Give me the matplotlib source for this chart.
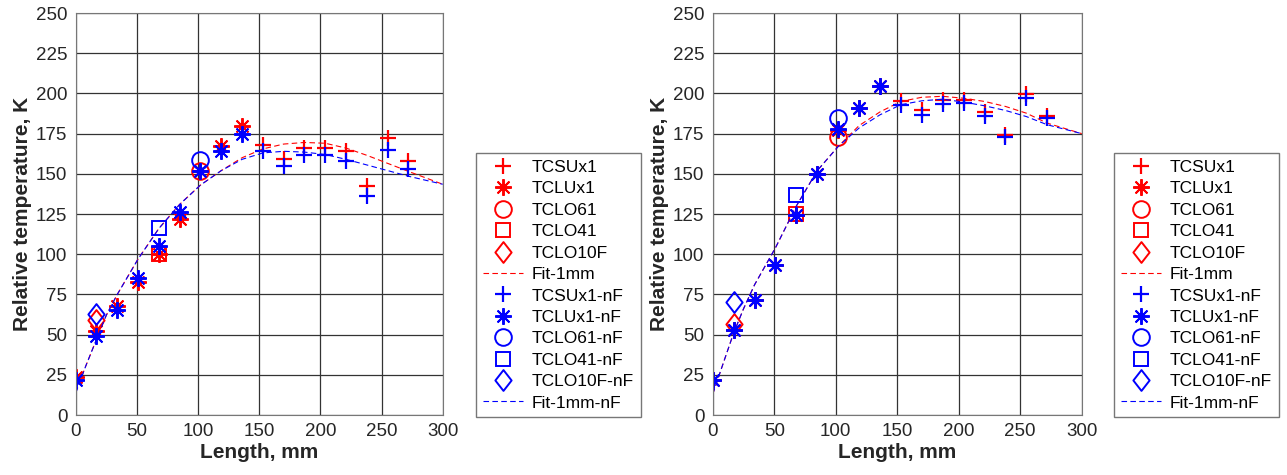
import matplotlib
matplotlib.use("Agg")
import matplotlib.pyplot as plt
from matplotlib.path import Path
import numpy as np

plt.rcParams['font.family'] = ['Liberation Sans', 'DejaVu Sans']

# positions along the sample, mm
x_su = [153, 170, 187, 204, 221, 238, 255, 272]
x_lu = [0, 17, 34, 51, 68, 85, 102, 119, 136]
x_o61 = [102]
x_o41 = [68]
x_o10f = [17]
fit_x = [0, 8, 17, 25, 34, 51, 68, 85, 102, 119, 136, 153, 170, 187, 204, 221, 238, 255, 272, 300]

# left panel
L_su = [168, 159, 166, 166, 164, 142.5, 172, 158]
L_lu = [23.5, 52, 67.7, 82.6, 100, 122, 151.8, 167.4, 179.8]
L_o61 = [151.8]
L_o41 = [100]
L_o10f = [59]
L_fit = [14, 30, 47, 62, 75, 97, 116, 131, 143, 152, 160, 165.5, 168.5, 169.5, 169, 166, 161.5, 156.5, 151.5, 143.5]
L_su_nf = [164, 155, 162, 162, 158, 136, 164.5, 153]
L_lu_nf = [21.5, 49, 65.5, 85.3, 105, 126.3, 151.8, 164, 175]
L_o61_nf = [158.7]
L_o41_nf = [116]
L_o10f_nf = [63]
L_fit_nf = [13.5, 30, 47, 62, 75, 97, 116, 131, 143, 152, 159, 163, 164, 163.5, 162, 159, 155.5, 152, 148.5, 143.5]

# right panel
R_su = [195, 189.4, 195.6, 195.6, 188.7, 174.2, 199.8, 186]
R_lu = [21.7, 53, 71.5, 93.4, 124.4, 149.8, 177.5, 190.8, 204.7]
R_o61 = [173.2]
R_o41 = [125]
R_o10f = [56.8]
R_fit = [13, 31, 51, 66, 81, 104, 130, 152, 167, 180, 188.5, 195, 197.6, 198.2, 197, 195, 191.9, 187.7, 181.5, 175]
R_su_nf = [192.5, 186.7, 193.5, 194, 186, 172.6, 197, 184.6]
R_lu_nf = [21.7, 52.7, 71.3, 93.4, 124.4, 149.8, 177.8, 190.8, 204.7]
R_o61_nf = [184.6]
R_o41_nf = [136.8]
R_o10f_nf = [70.2]
R_fit_nf = [13, 31, 51, 66, 81, 104, 130, 152, 167, 178.5, 186.7, 193, 195.4, 196.4, 194.6, 192.3, 189.4, 185.6, 180.5, 175]

names = ['TCSUx1', 'TCLUx1', 'TCLO61', 'TCLO41', 'TCLO10F', 'Fit-1mm']

# matlab style asterisk and diamond
star = (8, 2, 0)
diamond = Path([(0, 1), (0.78, 0), (0, -1), (-0.78, 0), (0, 1)],
               [Path.MOVETO, Path.LINETO, Path.LINETO, Path.LINETO, Path.CLOSEPOLY])


def panel(ax, sets, colors):
    for (su, lu, o61, o41, o10f, fit), c, suffix in zip(sets, colors, ['', '-nF']):
        ax.plot(x_su, su, ls='none', marker='+', ms=12, mew=1.6, color=c, label=names[0] + suffix)
        ax.plot(x_lu, lu, ls='none', marker=star, ms=12, mew=1.4, color=c, label=names[1] + suffix)
        ax.plot(x_o61, o61, ls='none', marker='o', ms=12, mew=1.4, mfc='none', color=c, label=names[2] + suffix)
        ax.plot(x_o41, o41, ls='none', marker='s', ms=9.5, mew=1.4, mfc='none', color=c, label=names[3] + suffix)
        ax.plot(x_o10f, o10f, ls='none', marker=diamond, ms=15, mew=1.4, mfc='none', color=c, label=names[4] + suffix)
        ax.plot(fit_x, fit, ls=(0, (5, 3)), lw=0.8, color=c, label=names[5] + suffix)
    ax.set_xlim(0, 300)
    ax.set_ylim(0, 250)
    ax.set_xticks(np.arange(0, 301, 50))
    ax.set_yticks(np.arange(0, 251, 25))
    ax.grid(True, color='#333333', lw=0.9)
    ax.set_axisbelow(True)
    ax.tick_params(length=0, labelsize=13.5, labelcolor='#262626', pad=6)
    for s in ax.spines.values():
        s.set_color('#777777')
    ax.set_xlabel('Length, mm', fontsize=15, fontweight='bold', color='#262626', labelpad=2)
    ax.set_ylabel('Relative temperature, K', fontsize=15, fontweight='bold', color='#262626', labelpad=3)


fig = plt.figure(figsize=(12.87, 4.75), dpi=100)
ax1 = fig.add_axes([0.0588, 0.1263, 0.2852, 0.8463])
ax2 = fig.add_axes([0.5538, 0.1263, 0.2867, 0.8463])

panel(ax1, [(L_su, L_lu, L_o61, L_o41, L_o10f, L_fit),
            (L_su_nf, L_lu_nf, L_o61_nf, L_o41_nf, L_o10f_nf, L_fit_nf)], ['red', 'blue'])
panel(ax2, [(R_su, R_lu, R_o61, R_o41, R_o10f, R_fit),
            (R_su_nf, R_lu_nf, R_o61_nf, R_o41_nf, R_o10f_nf, R_fit_nf)], ['red', 'blue'])

for ax, x0 in [(ax1, 476 / 1287), (ax2, 1114 / 1287)]:
    ax.legend(loc='upper left', bbox_to_anchor=(x0, 1 - 153 / 475), bbox_transform=fig.transFigure,
              fontsize=12.5, frameon=True, fancybox=False, framealpha=1, edgecolor='#777777',
              handlelength=2.3, handletextpad=0.5, labelspacing=0.36, borderpad=0.4, borderaxespad=0)

fig.savefig('out.png', dpi=100)
